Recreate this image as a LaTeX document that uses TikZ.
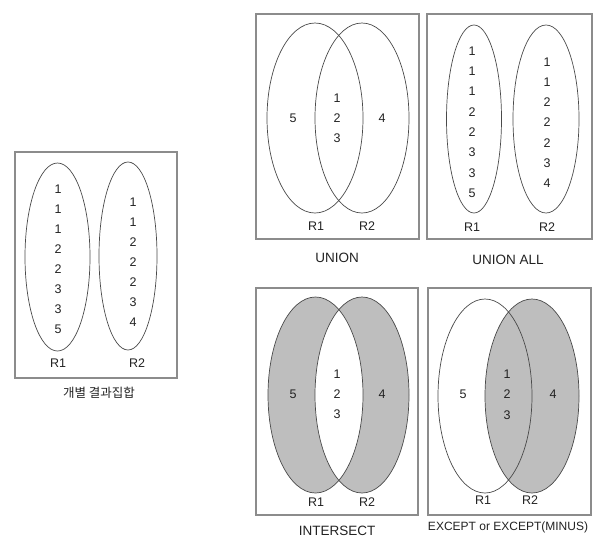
\documentclass[tikz,border=0pt]{standalone}
\usepackage{fontspec}
\setmainfont{Liberation Sans}
\newfontfamily\krfont{Noto Sans CJK KR}
\usepackage{xcolor}
\usepackage{tikz}
\definecolor{frame}{HTML}{8C8C8C}
\definecolor{rim}{HTML}{4A4A4A}
\definecolor{greyfill}{HTML}{BEBEBE}
\definecolor{ink}{HTML}{222222}
\tikzset{
  panel/.style={draw=frame, line width=1.2pt},
  setline/.style={draw=rim, line width=.7pt},
  num/.style={text=ink, inner sep=0pt, font=\fontsize{12.5}{13}\selectfont},
  tag/.style={num},
  caption/.style={text=ink, inner sep=0pt, font=\fontsize{13.5}{14}\selectfont}
}

\begin{document}
\begin{tikzpicture}[x=1pt,y=-1pt]
  \useasboundingbox (0,0) rectangle (607,544);

  % separate result sets
  \draw[panel] (15,152) rectangle (177,378);
  \draw[setline] (57.5,257) ellipse [x radius=32.5, y radius=94];
  \draw[setline] (128,256) ellipse [x radius=29, y radius=94];
  \foreach \v [count=\i from 0] in {1,1,1,2,2,3,3,5}
    \node[num] (sa\i) at (58,189+20.1*\i) {\v};
  \foreach \v [count=\i from 0] in {1,1,2,2,2,3,4}
    \node[num] (sb\i) at (133,202+20*\i) {\v};
  \node[tag] (sr1) at (58,363) {R1};
  \node[tag] (sr2) at (137,363) {R2};
  \node[caption,font=\krfont\fontsize{12.5}{14}\selectfont] (scap) at (99,393) {개별 결과집합};

  % union
  \draw[panel] (256,14) rectangle (419,239);
  \draw[setline] (315,118) ellipse [x radius=48, y radius=95];
  \draw[setline] (362,118) ellipse [x radius=47, y radius=95];
  \node[num] (u5) at (293,118) {5};
  \foreach \v [count=\i from 0] in {1,2,3}
    \node[num] (u\v) at (337,98+20*\i) {\v};
  \node[num] (u4) at (382,118) {4};
  \node[tag] (ur1) at (316,226) {R1};
  \node[tag] (ur2) at (367,226) {R2};
  \node[caption] (ucap) at (337,258) {UNION};

  % union all
  \draw[panel] (427,14) rectangle (592,239);
  \draw[setline] (474,119) ellipse [x radius=27.5, y radius=94];
  \draw[setline] (546,119) ellipse [x radius=33, y radius=94];
  \foreach \v [count=\i from 0] in {1,1,1,2,2,3,3,5}
    \node[num] (aa\i) at (472,51+20.3*\i) {\v};
  \foreach \v [count=\i from 0] in {1,1,2,2,2,3,4}
    \node[num] (ab\i) at (547,62+20.2*\i) {\v};
  \node[tag] (ar1) at (472,227) {R1};
  \node[tag] (ar2) at (547,227) {R2};
  \node[caption] (acap) at (508,260) {UNION ALL};

  % intersect
  \draw[panel] (256,288) rectangle (418,515);
  \fill[greyfill] (315.5,395) ellipse [x radius=47.5, y radius=98];
  \fill[greyfill] (362,395) ellipse [x radius=47, y radius=98];
  \begin{scope}
    \clip (315.5,395) ellipse [x radius=47.5, y radius=98];
    \fill[white] (362,395) ellipse [x radius=47, y radius=98];
  \end{scope}
  \draw[setline] (315.5,395) ellipse [x radius=47.5, y radius=98];
  \draw[setline] (362,395) ellipse [x radius=47, y radius=98];
  \node[num] (i5) at (293,394) {5};
  \foreach \v [count=\i from 0] in {1,2,3}
    \node[num] (i\v) at (337,374+20*\i) {\v};
  \node[num] (i4) at (382,394) {4};
  \node[tag] (ir1) at (316,502) {R1};
  \node[tag] (ir2) at (367,502) {R2};
  \node[caption] (icap) at (337,531) {INTERSECT};

  % except
  \draw[panel] (428,288) rectangle (591,515);
  \fill[greyfill] (532,396) ellipse [x radius=47, y radius=97];
  \draw[setline] (485,396) ellipse [x radius=47, y radius=97];
  \draw[setline] (532,396) ellipse [x radius=47, y radius=97];
  \node[num] (e5) at (463,394) {5};
  \foreach \v [count=\i from 0] in {1,2,3}
    \node[num] (e\v) at (507,374+20.5*\i) {\v};
  \node[num] (e4) at (553,394) {4};
  \node[tag] (er1) at (483,500) {R1};
  \node[tag] (er2) at (530,500) {R2};
  \node[caption,font=\fontsize{12}{14}\selectfont] (ecap) at (508,527) {EXCEPT or EXCEPT(MINUS)};
\end{tikzpicture}
\end{document}
